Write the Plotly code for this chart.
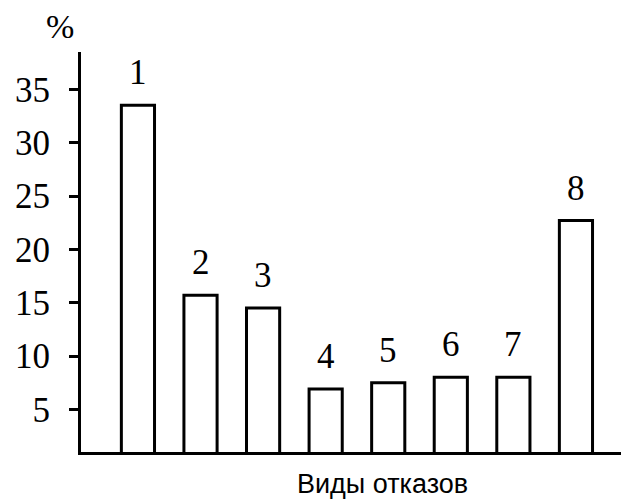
import plotly.graph_objects as go

# Failure types and their share, %
categories = [1, 2, 3, 4, 5, 6, 7, 8]
labels = ["1", "2", "3", "4", "5", "6", "7", "8"]
shares = [33.5, 15.7, 14.5, 6.9, 7.5, 8.0, 8.0, 22.7]
tick_values = [5, 10, 15, 20, 25, 30, 35]

serif = "Liberation Serif"
sans = "Liberation Sans"

fig = go.Figure(
    go.Bar(
        x=categories,
        y=shares,
        width=0.53,
        marker=dict(color="white", line=dict(color="black", width=3)),
        hoverinfo="skip",
    )
)

# Number of each failure type above its bar
for x, y, t in zip(categories, shares, labels):
    fig.add_annotation(
        x=x, y=y, text=t, showarrow=False,
        xanchor="center", yanchor="bottom", yshift=11,
        font=dict(family=serif, size=35, color="black"),
    )

fig.add_annotation(
    xref="paper", yref="paper", x=-0.039, y=1.0,
    text="%", showarrow=False, xanchor="center", yanchor="bottom",
    yshift=5,
    font=dict(family=serif, size=34, color="black"),
)

# Axis caption under the horizontal axis
fig.add_annotation(
    xref="paper", yref="paper", x=0.558, y=0,
    text="Виды отказов", showarrow=False, xanchor="center", yanchor="top",
    yshift=-15,
    font=dict(family=sans, size=27, color="black"),
)

fig.update_layout(
    width=628, height=499,
    margin=dict(l=81, r=7, t=52, b=47),
    paper_bgcolor="white", plot_bgcolor="white",
    showlegend=False,
    xaxis=dict(
        range=[0.09, 8.72], showticklabels=False, ticks="",
        showgrid=False, zeroline=False,
        showline=True, linecolor="black", linewidth=3,
    ),
    yaxis=dict(
        range=[1.0, 38.5], tickvals=tick_values,
        ticks="outside", ticklen=9, tickwidth=3, tickcolor="black",
        ticklabelstandoff=12,
        tickfont=dict(family=serif, size=35, color="black"),
        showgrid=False, zeroline=False,
        showline=True, linecolor="black", linewidth=3,
    ),
)

fig.write_html("out.html")
